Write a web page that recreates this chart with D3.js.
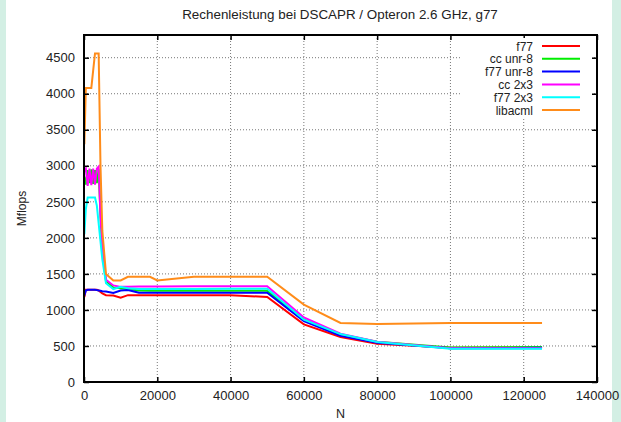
<!DOCTYPE html>
<html>
<head>
<meta charset="utf-8">
<script src="https://cdn.jsdelivr.net/npm/d3@7"></script>
<style>
  body { margin: 0; background: #fff; }
  svg { display: block; font-family: "Liberation Sans", Arial, sans-serif; }
  .grid line { stroke: #777; stroke-dasharray: 1,2; stroke-width: 1; }
</style>
</head>
<body>
<div id="chart"></div>
<script>
// data
const nValues = [100, 500, 1000, 1500, 2000, 2500, 3000, 3500, 4000, 4500, 5000, 6000, 8000, 10000,
  12000, 15000, 18000, 20000, 30000, 40000, 50000, 60000, 70000, 80000, 100000, 125000];

const f77 = [1180, 1280, 1280, 1280, 1280, 1280, 1280, 1280, 1270, 1250, 1230, 1205, 1200, 1170,
  1205, 1205, 1205, 1205, 1205, 1205, 1180, 800, 625, 530, 475, 480];
const ccUnr8 = [2850, 2740, 2940, 2760, 2950, 2750, 2940, 2760, 2950, 2300, 1800, 1400, 1310, 1300,
  1290, 1270, 1265, 1265, 1265, 1265, 1265, 870, 660, 560, 480, 485];
const f77Unr8 = [1200, 1270, 1280, 1280, 1280, 1280, 1280, 1275, 1270, 1265, 1260, 1255, 1235, 1270,
  1275, 1240, 1240, 1240, 1240, 1240, 1240, 845, 640, 545, 470, 475];
const cc2x3 = [2920, 2960, 2720, 2960, 2730, 2960, 2740, 2960, 2990, 2300, 1850, 1420, 1340, 1320,
  1320, 1325, 1325, 1325, 1330, 1330, 1330, 895, 670, 560, 470, 470];
const f772x3 = [2050, 2400, 2560, 2560, 2560, 2560, 2560, 2450, 2200, 1950, 1700, 1370, 1290, 1320,
  1300, 1290, 1290, 1290, 1290, 1295, 1295, 865, 665, 555, 460, 460];
const libacml = [3300, 4080, 4080, 4080, 4080, 4320, 4560, 4560, 4560, 3000, 2100, 1500, 1410, 1410,
  1460, 1460, 1460, 1410, 1460, 1460, 1460, 1075, 820, 805, 820, 820];

const seriesNames = ['f77', 'cc unr-8', 'f77 unr-8', 'cc 2x3', 'f77 2x3', 'libacml'];
const seriesValues = [f77, ccUnr8, f77Unr8, cc2x3, f772x3, libacml];
const seriesColors = ['#ff0000', '#00ee00', '#0000ff', '#ff00ff', '#00ffff', '#ff8c1a'];

const xTicks = [0, 20000, 40000, 60000, 80000, 100000, 120000, 140000];
const yTicks = [0, 500, 1000, 1500, 2000, 2500, 3000, 3500, 4000, 4500];

// layout
const width = 621, height = 422;
const margin = {top: 35, right: 24, bottom: 40, left: 84};
const w = width - margin.left - margin.right;
const h = height - margin.top - margin.bottom;

const svg = d3.select('#chart').append('svg')
    .attr('width', width)
    .attr('height', height);

// side strips of the page background
svg.append('rect').attr('x', 0).attr('y', 0).attr('width', 6).attr('height', height).attr('fill', '#d3efe4');
svg.append('rect').attr('x', 612).attr('y', 0).attr('width', 9).attr('height', height).attr('fill', '#d3efe4');

const g = svg.append('g').attr('transform', `translate(${margin.left},${margin.top})`);

let x = d3.scaleLinear().domain([0, 140000]).range([0, w]);
let y = d3.scaleLinear().domain([0, 4815]).range([h, 0]);

// grid
g.append('g').attr('class', 'grid')
    .selectAll('line').data(xTicks.slice(1, -1)).enter().append('line')
    .attr('x1', d => x(d)).attr('x2', d => x(d)).attr('y1', 0).attr('y2', h);
g.append('g').attr('class', 'grid')
    .selectAll('line').data(yTicks.slice(1)).enter().append('line')
    .attr('x1', 0).attr('x2', w).attr('y1', d => y(d)).attr('y2', d => y(d));

// white box behind the key (gnuplot clears it)
svg.append('rect').attr('x', 462).attr('y', 38).attr('width', 130).attr('height', 79).attr('fill', '#fff');

// series
const line = d3.line().x((d, i) => x(nValues[i])).y(d => y(d));
seriesValues.forEach((vals, k) => {
    g.append('path')
        .datum(vals)
        .attr('d', line)
        .attr('fill', 'none')
        .attr('stroke', seriesColors[k])
        .attr('stroke-width', 2)
        .attr('stroke-linejoin', 'miter');
});

// axes with mirrored inward ticks
const styleAxis = sel => {
    sel.select('.domain').remove();
    sel.selectAll('line').attr('stroke', '#000').attr('stroke-width', 1.5);
    sel.selectAll('text').attr('font-size', 13).attr('fill', '#222');
};
g.append('g').attr('transform', `translate(0,${h})`)
    .call(d3.axisBottom(x).tickValues(xTicks).tickSize(-5).tickPadding(9).tickFormat(d3.format('d')))
    .call(styleAxis);
g.append('g')
    .call(d3.axisTop(x).tickValues(xTicks).tickSize(-5).tickFormat(''))
    .call(styleAxis);
g.append('g')
    .call(d3.axisLeft(y).tickValues(yTicks).tickSize(-5).tickPadding(9).tickFormat(d3.format('d')))
    .call(styleAxis);
g.append('g').attr('transform', `translate(${w},0)`)
    .call(d3.axisRight(y).tickValues(yTicks).tickSize(-5).tickFormat(''))
    .call(styleAxis);

// frame
g.append('rect').attr('width', w).attr('height', h)
    .attr('fill', 'none').attr('stroke', '#000').attr('stroke-width', 2);

// titles
svg.append('text').attr('x', 340).attr('y', 19).attr('text-anchor', 'middle')
    .attr('font-size', 13.4).attr('fill', '#222')
    .text('Rechenleistung bei DSCAPR / Opteron 2.6 GHz, g77');
svg.append('text').attr('x', margin.left + w / 2).attr('y', 418).attr('text-anchor', 'middle')
    .attr('font-size', 12.5).attr('fill', '#222').text('N');
svg.append('text').attr('transform', `translate(26,${margin.top + h / 2}) rotate(-90)`)
    .attr('text-anchor', 'middle').attr('font-size', 12).attr('fill', '#222').text('Mflops');

// legend
const legend = svg.append('g').attr('transform', 'translate(533,46)');
seriesNames.forEach((name, k) => {
    const row = legend.append('g').attr('transform', `translate(0,${k * 12.8})`);
    row.append('text').attr('x', 0).attr('y', 4.5).attr('text-anchor', 'end')
        .attr('font-size', 12).attr('fill', '#222').text(name);
    row.append('line').attr('x1', 9).attr('x2', 47).attr('y1', 0).attr('y2', 0)
        .attr('stroke', seriesColors[k]).attr('stroke-width', 2);
});
</script>
</body>
</html>
